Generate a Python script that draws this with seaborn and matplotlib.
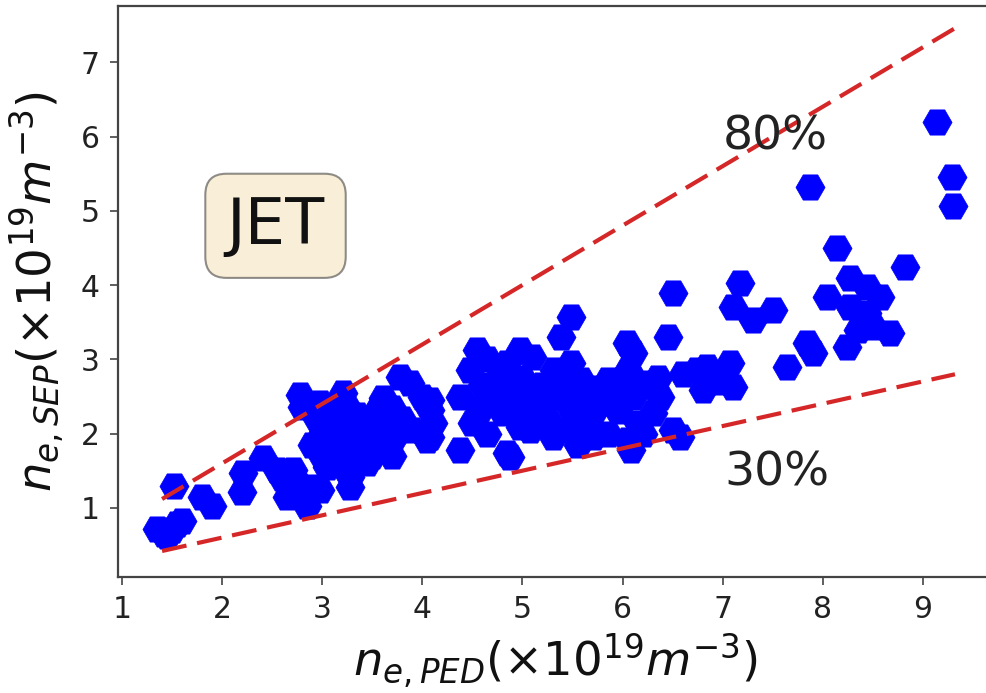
import matplotlib
matplotlib.use("Agg")
import matplotlib.pyplot as plt
import seaborn as sns
import pandas as pd

# --- data ---
ne_ped = [1.35, 1.42, 1.50, 1.55, 1.60, 1.45, 1.52, 1.80, 1.90,
          2.20, 2.21, 2.41, 2.55, 2.65, 2.71, 2.88, 2.85, 2.98, 3.28, 3.28, 2.75, 2.60,
          2.78, 2.80, 2.98, 3.21, 3.25,
          2.90, 3.00, 3.00, 3.10, 3.10, 3.20, 3.20, 3.30, 3.30, 3.40, 3.40, 3.50, 3.50,
          3.60, 3.60, 3.70, 3.15, 2.95, 3.35, 3.05, 3.45, 3.70,
          3.78, 3.88, 3.61, 4.00, 4.08, 4.05, 3.90, 3.70, 3.80, 3.55,
          4.08, 4.11, 4.08, 4.38, 4.85, 4.88, 4.38, 4.48, 4.55, 4.65, 4.75, 4.98, 5.10,
          4.85, 4.58, 4.81, 5.05, 4.70, 4.90, 4.50, 4.65, 4.95,
          5.31, 5.48, 5.58, 5.30, 5.25, 5.41, 5.65, 5.85, 6.05, 6.08, 5.75, 5.85, 6.05,
          6.24, 6.37, 6.30, 6.50, 6.57, 5.70, 5.50, 5.30, 5.15, 5.08, 4.98, 5.45, 5.60,
          5.95, 6.15, 6.10, 5.20, 5.40, 5.70, 5.55, 6.20,
          5.48, 5.38, 6.04, 6.10, 6.45, 6.50,
          6.74, 6.87, 7.07, 7.10, 6.80, 6.84,
          7.17, 7.10, 7.30, 7.50,
          7.87, 8.14, 8.82, 8.27, 8.04, 8.44, 8.57, 8.27, 8.44, 8.67, 8.24, 8.50, 8.35,
          7.84, 7.90, 7.64,
          9.14, 9.29, 9.30,
          4.60, 4.78, 5.00, 5.18, 5.35, 5.52, 5.68, 5.90, 6.00, 6.35, 6.60, 6.95]
ne_sep = [0.72, 0.65, 0.70, 0.78, 0.83, 0.62, 1.30, 1.15, 1.03,
          1.22, 1.47, 1.67, 1.51, 1.15, 1.51, 1.28, 1.03, 1.24, 1.28, 1.42, 1.35, 1.40,
          2.52, 2.36, 2.41, 2.55, 2.36,
          1.85, 1.70, 2.00, 1.80, 2.10, 1.90, 1.65, 2.00, 1.75, 1.85, 2.10, 1.70, 1.95,
          1.80, 2.05, 1.90, 2.25, 2.20, 2.25, 1.55, 1.60, 1.70,
          2.76, 2.68, 2.48, 2.50, 2.32, 1.92, 2.05, 2.35, 2.20, 2.30,
          2.45, 2.14, 1.96, 1.78, 1.74, 1.69, 2.50, 2.86, 3.13, 3.00, 2.72, 3.13, 3.03,
          2.95, 2.32, 2.28, 2.50, 2.50, 2.60, 2.15, 2.00, 2.30,
          2.86, 2.95, 2.72, 2.50, 2.18, 2.05, 2.09, 2.00, 1.92, 1.78, 2.41, 2.72, 2.86,
          2.68, 2.50, 2.28, 2.05, 1.96, 2.28, 2.05, 1.96, 2.32, 2.05, 2.09, 2.40, 2.55,
          2.30, 2.15, 2.50, 2.65, 2.70, 1.95, 1.85, 2.00,
          3.57, 3.30, 3.22, 3.08, 3.30, 3.89,
          2.86, 2.77, 2.95, 2.63, 2.59, 2.90,
          4.03, 3.70, 3.53, 3.66,
          5.32, 4.50, 4.24, 4.10, 3.84, 3.97, 3.84, 3.70, 3.62, 3.36, 3.17, 3.44, 3.40,
          3.22, 3.08, 2.90,
          6.20, 5.45, 5.06,
          2.65, 2.40, 2.75, 2.45, 2.60, 2.25, 2.62, 2.55, 2.65, 2.75, 2.80, 2.70]

line_x = [1.40, 9.32]
line_80 = [1.12, 7.46]
line_30 = [0.42, 2.80]

x_ticks = [1, 2, 3, 4, 5, 6, 7, 8, 9]
y_ticks = [1, 2, 3, 4, 5, 6, 7]

df = pd.DataFrame({"ne_ped": ne_ped, "ne_sep": ne_sep})
lines = pd.DataFrame({"x": line_x, "y80": line_80, "y30": line_30})

sns.set_theme(style="ticks")
plt.rcParams["font.family"] = ["DejaVu Sans"]
plt.rcParams["mathtext.fontset"] = "dejavusans"

fig = plt.figure(figsize=(9.86, 6.93), dpi=100)
ax = fig.add_axes([0.1197, 0.1674, 0.8874, 0.824])

sns.scatterplot(data=df, x="ne_ped", y="ne_sep", marker="H", s=440,
                color="#0000ff", edgecolor="#0000ff", linewidth=0.5, ax=ax,
                zorder=1)
for col in ["y80", "y30"]:
    sns.lineplot(data=lines, x="x", y=col, ax=ax, color="#d62728", lw=3,
                 dashes=False, zorder=2).lines[-1].set_dashes((6.0, 2.6))

ax.set_xlim(0.96, 9.70)
ax.set_ylim(0.07, 7.76)
ax.set_xticks(x_ticks)
ax.set_yticks(y_ticks)
ax.tick_params(axis="both", labelsize=21.5, length=6, width=1.2,
               color="#444444", pad=7, labelcolor="#222222")
for sp in ax.spines.values():
    sp.set_color("#444444")
    sp.set_linewidth(1.6)

ax.set_xlabel(r"$n_{e,PED}(\times10^{19}m^{-3})$", fontsize=33.5, color="#111111",
              labelpad=5)
ax.set_ylabel(r"$n_{e,SEP}(\times10^{19}m^{-3})$", fontsize=33.5, color="#111111",
              labelpad=11)

ax.text(0.18, 0.615, "JET", transform=ax.transAxes, fontsize=46,
        ha="center", va="center", color="#111111",
        bbox=dict(boxstyle="round,pad=0.33", facecolor="#f5deb3", alpha=0.5,
                  edgecolor="#222222", linewidth=1.5))
ax.text(7.53, 5.99, "80%", fontsize=34, ha="center", va="center",
        color="#222222", zorder=3)
ax.text(7.54, 1.47, "30%", fontsize=34, ha="center", va="center",
        color="#222222", zorder=3)

fig.savefig("out.png", dpi=100)
